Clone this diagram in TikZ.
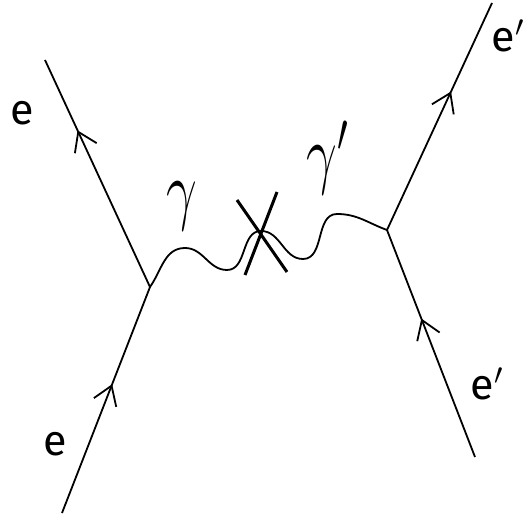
\RequirePackage{fix-cm}
\documentclass[tikz,border=0pt]{standalone}
\usepackage{fontspec}
\newfontfamily\labelfont{Fira Sans}
\usetikzlibrary{arrows.meta,decorations.markings}

\begin{document}
\begin{tikzpicture}[x=1pt,y=1pt,line width=1.8pt,
  fermion/.style={decoration={markings,mark=at position #1 with {\arrow{Straight Barb[length=18pt,width=24pt]}}},postaction={decorate}},
  photon/.style={line cap=round},
  cut/.style={line width=3pt},
  lbl/.style={inner sep=0pt,anchor=base west,font=\labelfont\fontsize{43}{43}\selectfont},
  glbl/.style={inner sep=0pt,anchor=base west,font=\fontsize{78}{78}\selectfont,xscale=0.7}]
\useasboundingbox (0,0) rectangle (529,516);
% vertices and line ends
\coordinate (v1) at (150,229);
\coordinate (v2) at (387,286);
\coordinate (inL) at (62,3);
\coordinate (outL) at (45,456);
\coordinate (inR) at (475,59);
\coordinate (outR) at (492,513);
\coordinate (x) at (261,285);
% fermions
\draw[fermion=0.57] (inL) -- (v1);
\draw[fermion=0.69] (v1) -- (outL);
\draw[fermion=0.61] (inR) -- (v2);
\draw[fermion=0.61] (v2) -- (outR);
% photon
\draw[photon] (v1) to[out=55,in=180] (185,268) to[out=0,in=180] (227,246)
  to[out=0,in=180] (x) to[out=0,in=180] (303,257) to[out=0,in=180] (337,302)
  to[out=0,in=160] (v2);
% cross
\coordinate (xa) at (237,316);
\coordinate (xb) at (287,244);
\coordinate (xc) at (277,324);
\coordinate (xd) at (245,241);
\draw[cut] (xa) -- (xb);
\draw[cut] (xc) -- (xd);
% labels
\node[lbl] (eout) at (10,391) {e};
\node[lbl] (ein) at (43,61) {e};
\node[glbl] (g) at (166,300) {$\gamma$};
\node[glbl] (gp) at (306,336) {$\gamma'$};
\node[lbl] (epout) at (491,464) {e$'$};
\node[lbl] (epin) at (470,116) {e$'$};
\end{tikzpicture}
\end{document}
